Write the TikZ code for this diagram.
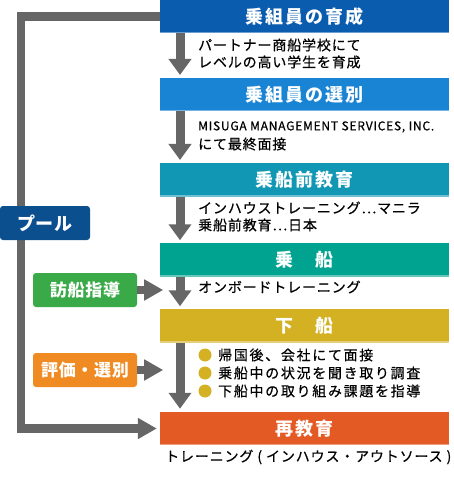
\documentclass[tikz,border=0pt]{standalone}
\usepackage{fontspec}
\setmainfont{Noto Sans CJK JP}
\usetikzlibrary{arrows.meta}

\definecolor{crewblue}{HTML}{0A5CAF}
\definecolor{selblue}{HTML}{1A84D4}
\definecolor{preteal}{HTML}{1197B3}
\definecolor{boardgreen}{HTML}{00A38F}
\definecolor{offyellow}{HTML}{D4B023}
\definecolor{reorange}{HTML}{E45A25}
\definecolor{poolblue}{HTML}{0B4F8F}
\definecolor{visitgreen}{HTML}{3AAA48}
\definecolor{evalorange}{HTML}{EF8B22}
\definecolor{arrowgray}{HTML}{666666}

\newcommand\headfont{\fontsize{18}{20}\selectfont\bfseries\addfontfeature{LetterSpace=12}}
\newcommand\sidefont{\fontsize{17}{20}\selectfont\bfseries\addfontfeature{LetterSpace=4}}
\newcommand\descfont{\fontsize{14}{17}\selectfont\addfontfeature{LetterSpace=6,FakeBold=0.5}}

\begin{document}
\begin{tikzpicture}[x=1pt,y=-1pt,
    stage/.style={fill=#1, minimum width=289pt, minimum height=33.5pt, inner sep=0pt, text=white, font=\headfont},
    side/.style={fill=#1, rounded corners=3pt, minimum width=104pt, minimum height=34pt, inner sep=0pt, text=white, font=\sidefont},
    flow/.style={draw=arrowgray, line width=9pt, shorten >=3pt, -{Triangle[width=22pt,length=16pt]}},
    push/.style={draw=arrowgray, line width=8.5pt, line join=miter, -{Triangle[width=20pt,length=19pt]}},
    desc/.style={anchor=west, inner sep=0pt, font=\descfont, align=left}]
        \useasboundingbox (0,0) rectangle (453,478);

        \node[stage=crewblue]   (stage1) at (304.5,16.75) {乗組員の育成};
        \node[stage=selblue]    (stage2) at (304.5,94.75) {乗組員の選別};
        \node[stage=preteal]    (stage3) at (304.5,180) {乗船前教育};
        \node[stage=boardgreen] (stage4) at (304.5,260) {乗　船};
        \node[stage=offyellow]  (stage5) at (304.5,326) {下　船};
        \node[stage=reorange]   (stage6) at (304.5,428.5) {再教育};

        % light rule under each stage
        \foreach \s in {stage1,stage2,stage3,stage4,stage5,stage6}
            \draw[white, opacity=0.4, line width=1.5pt] ([yshift=0.75pt]\s.south west) -- ([yshift=0.75pt]\s.south east);

        \draw[flow] (180,33.5) -- (180,78);
        \draw[flow] (180,111.5) -- (180,163);
        \draw[flow] (180,196.75) -- (180,243.25);
        \draw[flow] (180,276.75) -- (180,309.25);
        \draw[flow] (180,342.75) -- (180,411.75);

        \node[desc] (train)   at (198,53.5) {パートナー商船学校にて\\レベルの高い学生を育成};
        \node[desc, font=\fontsize{11}{13}\selectfont\addfontfeature{LetterSpace=6,FakeBold=0.5}] (misuga) at (198,127) {\resizebox{236pt}{!}{MISUGA MANAGEMENT SERVICES, INC.}};
        \node[desc] (interview) at (198,144) {にて最終面接};
        \node[desc] (inhouse) at (198,216.5) {インハウストレーニング…マニラ\\乗船前教育…日本};
        \node[desc] (onboard) at (198,287) {オンボードトレーニング};
        \node[desc, font=\fontsize{14}{17}\selectfont\addfontfeature{LetterSpace=12,FakeBold=0.5}] (back1) at (218,355) {帰国後、会社にて面接};
        \node[desc, font=\fontsize{14}{17}\selectfont\addfontfeature{LetterSpace=12,FakeBold=0.5}] (back2) at (218,373) {乗船中の状況を聞き取り調査};
        \node[desc, font=\fontsize{14}{17}\selectfont\addfontfeature{LetterSpace=12,FakeBold=0.5}] (back3) at (218,391) {下船中の取り組み課題を指導};
        \node[desc] (retrain) at (165,457) {トレーニング ( インハウス・アウトソース )};

        \foreach \y in {355,373,391}
            \fill[offyellow] (205,\y) circle (6.5pt);

        % pool loop
        \draw[push] (stage1.west) -- ++(-139,0) |- ([xshift=-3pt]stage6.west);
        \node[side=poolblue, minimum width=90pt, font=\fontsize{18}{20}\selectfont\bfseries\addfontfeature{LetterSpace=4}] (pool) at (45,223) {プール};

        \node[side=visitgreen] (visit) at (85,290) {訪船指導};
        \node[side=evalorange] (eval)  at (85,370) {評価・選別};
        \draw[push] (visit.east) -- ++(26,0);
        \draw[push] (eval.east) -- ++(26,0);
    \end{tikzpicture}
\end{document}
